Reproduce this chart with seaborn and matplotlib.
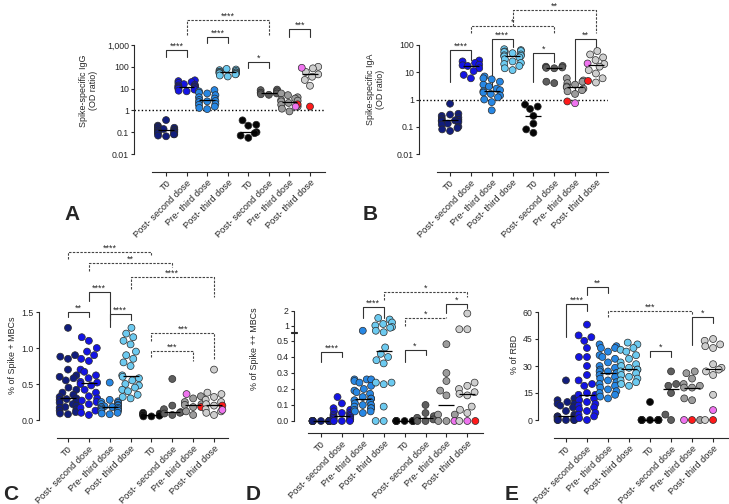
import numpy as np
import pandas as pd
import matplotlib
matplotlib.use('Agg')
import matplotlib.pyplot as plt
import matplotlib.transforms as mtrans
from matplotlib.ticker import NullLocator
import seaborn as sns

W, H = 729, 504

cats = ['T0', 'Post- second dose', 'Pre- third dose', 'Post- third dose'] * 2
keys = [f'g{i}' for i in range(8)]
group_colors = ['#111d7c', '#1414e4', '#2787e4', '#6ccaf0',
                '#050505', '#5e5e5e', '#9c9c9c', '#cecece']
red = '#ff1a1a'
pink = '#ef74ef'

# A - spike specific IgG (OD ratio), one list per group
igg = [
    [0.36, 0.2, 0.18, 0.16, 0.15, 0.14, 0.13, 0.13, 0.12, 0.12, 0.11, 0.1, 0.1, 0.09, 0.08, 0.08, 0.07, 0.065],
    [24, 22, 20, 18, 16, 15, 14, 13, 12.5, 12, 11.5, 11, 10.5, 10, 9.5, 9, 8, 7.5],
    [8.5, 7.5, 6.5, 6, 5, 4, 3.5, 3, 2.7, 2.6, 2.4, 2, 1.8, 1.5, 1.3, 1.15],
    [80, 75, 70, 65, 60, 58, 56, 54, 52, 50, 48, 45, 40, 36],
    [0.35, 0.22, 0.2, 0.1, 0.09, 0.07, 0.055],
    [9, 8.5, 7.5, 6.5, 6, 5.5, 5.2],
    [6, 5, 4, 3.5, 3, 2.8, 2.6, 2.2, 1.8, 1.5, 1.2, 0.9],
    [100, 85, 58, 45, 35, 25, 13.5],
]
igg_red = [[1.9], [1.5]]      # highlighted donors in the last two groups
igg_pink = [[1.5], [90]]

# B - spike specific IgA (OD ratio)
iga = [
    [0.7, 0.3, 0.28, 0.25, 0.22, 0.2, 0.18, 0.17, 0.17, 0.16, 0.15, 0.13, 0.12, 0.1, 0.09, 0.08, 0.07],
    [27, 25, 22, 19, 18, 17, 14, 11, 8, 6],
    [7, 6, 5.5, 4.5, 3.5, 3, 2.5, 2.2, 2, 1.8, 1.6, 1.4, 1.2, 1, 0.8, 0.4],
    [70, 65, 60, 58, 55, 50, 45, 42, 40, 38, 35, 30, 25, 22, 20, 17, 14, 12],
    [0.65, 0.55, 0.45, 0.25, 0.13, 0.08, 0.06],
    [17, 16, 15, 14.5, 14, 4.5, 4],
    [6, 5, 4.5, 4, 3.5, 3, 2.8, 2.5, 2.2, 2, 1.6],
    [60, 45, 35, 28, 20, 16, 12, 9, 6, 4.2],
]
iga_red = [[0.85], [4.8]]
iga_pink = [[0.73], [21]]

# C - % of Spike + MBCs
mbc = [
    [1.28, 0.9, 0.88, 0.85, 0.7, 0.62, 0.6, 0.58, 0.55, 0.45, 0.42, 0.38, 0.35, 0.32, 0.3, 0.29, 0.28,
     0.26, 0.24, 0.22, 0.2, 0.18, 0.17, 0.15, 0.13, 0.11, 0.09, 0.08],
    [1.15, 1.1, 1.0, 0.95, 0.9, 0.85, 0.82, 0.7, 0.67, 0.62, 0.58, 0.53, 0.52, 0.5, 0.48, 0.42, 0.38,
     0.33, 0.3, 0.27, 0.25, 0.22, 0.17, 0.13, 0.1, 0.07],
    [0.52, 0.28, 0.26, 0.25, 0.24, 0.22, 0.21, 0.2, 0.19, 0.18, 0.18, 0.17, 0.16, 0.15, 0.14, 0.13,
     0.12, 0.1, 0.09, 0.08],
    [1.28, 1.2, 1.15, 1.1, 1.05, 0.95, 0.9, 0.85, 0.8, 0.75, 0.62, 0.6, 0.58, 0.55, 0.5, 0.48, 0.45,
     0.42, 0.4, 0.35, 0.32, 0.3],
    [0.1, 0.09, 0.08, 0.07, 0.07, 0.06, 0.05, 0.05],
    [0.57, 0.2, 0.15, 0.11, 0.1, 0.09, 0.07],
    [0.33, 0.3, 0.25, 0.22, 0.21, 0.18, 0.12, 0.07],
    [0.7, 0.38, 0.36, 0.32, 0.28, 0.25, 0.22, 0.2, 0.15, 0.12, 0.1, 0.07],
]
mbc_red = [[0.18], [0.2]]
mbc_pink = [[0.36], [0.14]]

# D - % of Spike ++ MBCs (broken axis above 0.5)
mbc2 = [
    [0, 0, 0, 0, 0, 0, 0, 0, 0, 0, 0, 0, 0, 0],
    [0.15, 0.11, 0.08, 0.07, 0.06, 0.05, 0.05, 0.04, 0.04, 0.03, 0.03, 0.03, 0.02, 0.02, 0.02, 0.01,
     0.01, 0.01, 0.0, 0.0, 0.0, 0.0],
    [0.65, 0.26, 0.26, 0.26, 0.25, 0.24, 0.22, 0.2, 0.19, 0.18, 0.17, 0.15, 0.14, 0.14, 0.13, 0.12,
     0.11, 0.1, 0.1, 0.09, 0.08, 0.08, 0.07, 0.06, 0.06, 0.05],
    [1.5, 1.4, 1.2, 1.1, 1.0, 0.9, 0.85, 0.65, 0.55, 0.46, 0.42, 0.4, 0.38, 0.36, 0.24, 0.24, 0.23,
     0.09, 0.0, 0.0],
    [0, 0, 0, 0, 0, 0, 0, 0],
    [0.1, 0.05, 0.03, 0.02, 0.01, 0.0, 0.0],
    [0.48, 0.3, 0.25, 0.19, 0.16, 0.04, 0.04, 0.0, 0.0],
    [1.8, 0.75, 0.75, 0.24, 0.22, 0.2, 0.18, 0.17, 0.16, 0.09, 0.07, 0.05, 0.0],
]
mbc2_red = [[], [0.0]]
mbc2_pink = [[0.0], [0.0]]

# E - % of RBD
rbd = [
    [22, 12, 11, 10, 9, 9, 8, 7, 5, 3, 2, 2, 2, 1, 1, 0, 0, 0, 0, 0],
    [53, 47, 46, 44, 40, 35, 35, 30, 25, 22, 20, 19, 15, 14, 14, 12, 11, 10, 9, 8, 7, 6, 5, 4, 3, 2, 1, 0],
    [42, 41, 40, 40, 38, 36, 35, 34, 32, 30, 29, 28, 27, 27, 26, 26, 25, 24, 23, 22, 21, 20, 19, 18,
     17, 16, 15, 14, 13, 12],
    [43, 42, 40, 39, 38, 36, 34, 32, 31, 30, 29, 28, 28, 27, 26, 25, 24, 23, 22, 21, 20, 19],
    [10, 0, 0, 0, 0, 0, 0, 0, 0, 0],
    [27, 20, 19, 15, 3, 0],
    [27, 26, 23, 20, 19, 18, 18, 12, 11, 0],
    [45, 44, 42, 41, 40, 31, 29, 28, 27, 25, 14, 0],
]
rbd_red = [[0], [0]]
rbd_pink = [[0], [5.5]]

palette = dict(zip(keys, group_colors))
palette['red'] = red
palette['pink'] = pink

sns.set_style('ticks')
plt.rcParams['font.family'] = ['Liberation Sans', 'DejaVu Sans']
plt.rcParams['axes.linewidth'] = 0.8

fig = plt.figure(figsize=(W / 100, H / 100), dpi=100)
fig.patch.set_facecolor('white')
AXC = '#2a2a2a'


def make_df(groups, reds, pinks):
    rows = []
    for i, vals in enumerate(groups):
        rows += [(keys[i], v, keys[i]) for v in vals]
    for j in range(2):
        rows += [(keys[6 + j], v, 'red') for v in reds[j]]
        rows += [(keys[6 + j], v, 'pink') for v in pinks[j]]
    return pd.DataFrame(rows, columns=['grp', 'val', 'kind'])


def add_axes(box):
    x0, yt, x1, yb = box
    return fig.add_axes([x0 / W, 1 - yb / H, (x1 - x0) / W, (yb - yt) / H])


def fill_panel(ax, groups, reds, pinks, xlim, x_start, drop, ylabel, label_xy):
    df = make_df(groups, reds, pinks)
    sns.swarmplot(data=df, x='grp', y='val', hue='kind', order=keys, hue_order=list(palette),
                  palette=palette, size=5, linewidth=0.5, edgecolor='#2a2a2a',
                  legend=False, warn_thresh=1, clip_on=False, zorder=3, ax=ax)
    med = df.groupby('grp')['val'].median()
    ax.hlines([med[k] for k in keys], np.arange(8) - 0.38, np.arange(8) + 0.38,
              color='black', lw=0.9, zorder=5, clip_on=False)
    # spine moves reset the ticks, so do them before the tick labels
    sns.despine(ax=ax)
    ax.spines['bottom'].set_position(('outward', drop * 0.72))
    ax.spines['bottom'].set_bounds(x_start, xlim[1])
    for s in ('left', 'bottom'):
        ax.spines[s].set_color(AXC)
    ax.set_xlim(*xlim)
    ax.tick_params(axis='x', length=3, width=0.8, pad=1.5, color=AXC)
    ax.tick_params(axis='y', length=2.5, width=0.8, pad=1.2, labelsize=6.3, color=AXC)
    ax.set_xticks(range(8))
    ax.set_xticklabels(cats, rotation=45, ha='right', rotation_mode='anchor', fontsize=6.7)
    ax.set_xlabel('')
    ax.set_ylabel(ylabel, fontsize=6.4, linespacing=1.15)
    ax.yaxis.set_label_coords(*label_xy)
    ax.set_facecolor('none')


def bracket(ax, i, j, ybar, yl, yr, label, dashed=False):
    tr = mtrans.blended_transform_factory(ax.transData, fig.transFigure)
    ls = (0, (2.2, 1.2)) if dashed else '-'
    col = '#444444' if dashed else '#333333'
    ax.plot([i, i, j, j], [1 - yl / H, 1 - ybar / H, 1 - ybar / H, 1 - yr / H],
            transform=tr, color=col, lw=0.8, ls=ls, clip_on=False)
    ax.text((i + j) / 2, 1 - (ybar - 1.5) / H, label, transform=tr, ha='center',
            va='baseline', fontsize=6.5, clip_on=False)


def log_ticks(ax, lo, hi):
    ticks = [0.01, 0.1, 1, 10, 100, 1000]
    labels = ['0.01', '0.1', '1', '10', '100', '1,000']
    sel = [k for k, t in enumerate(ticks) if lo <= t <= hi]
    ax.set_ylim(lo, hi)
    ax.set_yticks([ticks[k] for k in sel])
    ax.set_yticklabels([labels[k] for k in sel])
    ax.yaxis.set_minor_locator(NullLocator())
    ax.axhline(1, color='black', lw=1, ls=(0, (1, 1.6)), zorder=2)


# ---- A
axA = add_axes((134, 45, 325, 154))
axA.set_yscale('log')
fill_panel(axA, igg, igg_red, igg_pink, (-1.56, 7.73), -0.68, 18,
           'Spike-specific IgG\n(OD ratio)', (-0.19, 0.58))
log_ticks(axA, 0.01, 1000)
for b in [(0, 1, 50, 57, 57, '****'), (2, 3, 37, 43, 43, '****'), (4, 5, 62, 68, 68, '*'),
          (6, 7, 29, 37, 37, '***')]:
    bracket(axA, *b)
bracket(axA, 1, 5, 20, 35, 35, '****', dashed=True)

# ---- B
axB = add_axes((419, 45, 608, 154))
axB.set_yscale('log')
fill_panel(axB, iga, iga_red, iga_pink, (-1.49, 7.58), -0.62, 18,
           'Spike-specific IgA\n(OD ratio)', (-0.18, 0.59))
log_ticks(axB, 0.01, 100)
for b in [(0, 1, 50, 82, 60, '****'), (2, 3, 39, 87, 47, '****'), (4, 5, 53, 82, 62, '*'),
          (6, 7, 39, 95, 50, '**')]:
    bracket(axB, *b)
bracket(axB, 1, 5, 26, 33, 33, '*', dashed=True)
bracket(axB, 3, 7, 10, 26, 33, '**', dashed=True)

# ---- C
axC = add_axes((39, 312, 228, 420))
fill_panel(axC, mbc, mbc_red, mbc_pink, (-1.39, 7.67), -0.53, 18, '% of Spike + MBCs', (-0.116, 0.6))
axC.set_ylim(0, 1.5)
axC.set_yticks([0, 0.5, 1.0, 1.5])
axC.set_yticklabels(['0.0', '0.5', '1.0', '1.5'])
for b in [(1, 2, 292, 301, 327, '****'), (0, 1, 312, 317, 317, '**'), (2, 3, 314, 320, 320, '****')]:
    bracket(axC, *b)
for b in [(0, 4, 252, 259, 255, '****'), (1, 5, 263, 271, 267, '**'), (3, 7, 277, 289, 297, '****'),
          (4, 7, 333, 341, 359, '***'), (4, 6, 351, 357, 361, '***')]:
    bracket(axC, *b, dashed=True)


# ---- D (broken y axis: linear to 0.5, compressed above)
def brk_fwd(v):
    v = np.asarray(v, dtype=float)
    return np.where(v <= 0.5, v, 0.55 + (v - 0.5) * 0.09375)


def brk_inv(u):
    u = np.asarray(u, dtype=float)
    return np.where(u <= 0.5, u, np.where(u < 0.55, 0.5, 0.5 + (u - 0.55) / 0.09375))


axD = add_axes((294, 310.5, 483, 421))
axD.set_yscale('function', functions=(brk_fwd, brk_inv))
fill_panel(axD, mbc2, mbc2_red, mbc2_pink, (-1.29, 7.75), -0.62, 12, '% of Spike ++ MBCs', (-0.185, 0.65))
axD.set_ylim(0, 2)
axD.set_yticks([0, 0.1, 0.2, 0.3, 0.4, 0.5, 1, 2])
axD.set_yticklabels(['0.0', '0.1', '0.2', '0.3', '0.4', '0.5', '1', '2'])
axD.yaxis.set_minor_locator(NullLocator())
axD.spines['left'].set_bounds(0, 0.51)
trD = mtrans.blended_transform_factory(axD.transAxes, axD.transData)
axD.plot([0, 0], [0.56, 2], transform=trD, color=AXC, lw=0.8, clip_on=False)
for yb in (0.51, 0.56):
    axD.plot([-0.018, 0.018], [yb, yb], transform=trD, color=AXC, lw=0.8, clip_on=False)
for b in [(0, 1, 352, 362, 357, '****'), (2, 3, 307, 318, 318, '****'), (6, 7, 304, 313, 308, '*'),
          (4, 5, 350, 362, 355, '*')]:
    bracket(axD, *b)
bracket(axD, 3, 7, 292, 300, 297, '*', dashed=True)
bracket(axD, 4, 6, 318, 326, 317, '*', dashed=True)

# ---- E
axE = add_axes((538, 312, 728, 420))
fill_panel(axE, rbd, rbd_red, rbd_pink, (-1.33, 7.71), -0.57, 18, '% of RBD', (-0.1, 0.61))
axE.set_ylim(0, 60)
axE.set_yticks([0, 15, 30, 45, 60])
for b in [(0, 1, 304, 337, 311, '****'), (1, 2, 287, 295, 293, '**'), (6, 7, 317, 345, 323, '*'),
          (4, 5, 351, 357, 357, '*')]:
    bracket(axE, *b)
bracket(axE, 2, 6, 311, 317, 315, '***', dashed=True)

# panel letters
for letter, x, y in [('A', 72, 215), ('B', 370, 215), ('C', 11, 495), ('D', 253, 495), ('E', 512, 495)]:
    fig.text(x / W, 1 - y / H, letter, fontsize=15, fontweight='bold', ha='center', va='center')

fig.savefig('out.png', dpi=100)
